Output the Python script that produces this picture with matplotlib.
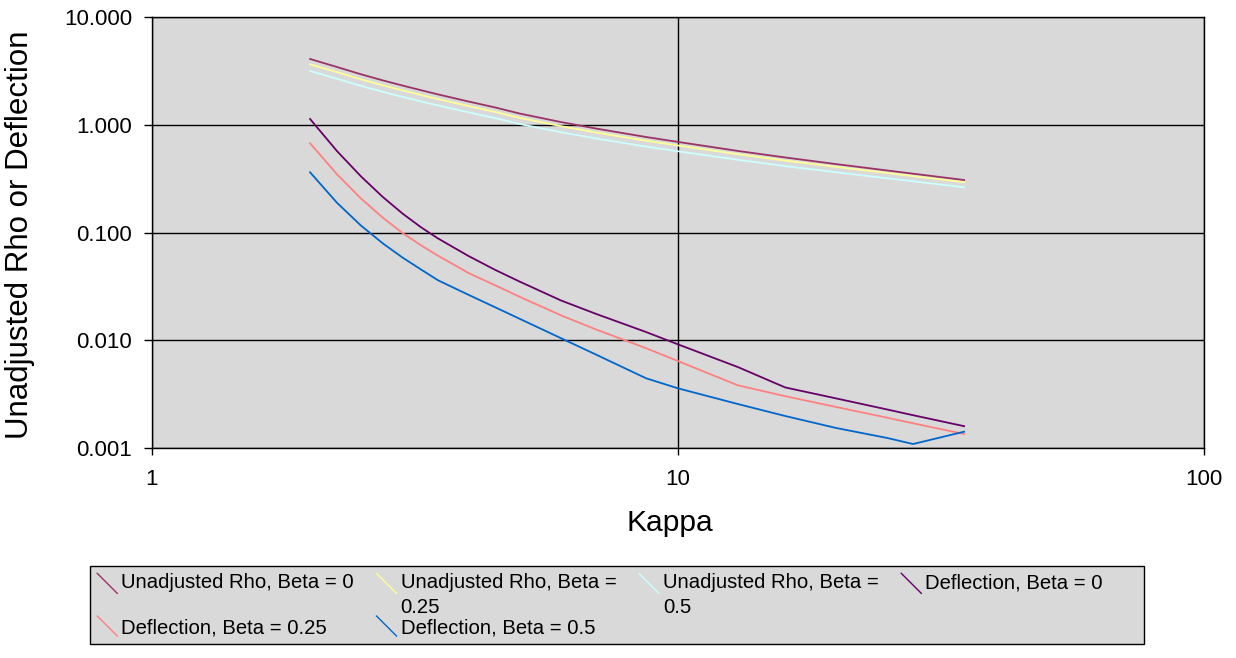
import matplotlib
matplotlib.use("Agg")
import matplotlib.pyplot as plt
from matplotlib.lines import Line2D
from matplotlib.legend_handler import HandlerBase
from matplotlib.ticker import FixedLocator, FixedFormatter

plt.rcParams['font.family'] = ['Liberation Sans', 'DejaVu Sans']

# ---- data ----
kappa = [2, 2.25, 2.5, 2.75, 3, 3.25, 3.5, 4, 4.5, 5, 6, 7, 8.7, 10, 13, 16, 20,
         25, 28, 35]

rho_b0 = [4.098, 3.452, 2.953, 2.592, 2.318, 2.101, 1.921, 1.650, 1.451, 1.276,
          1.062, 0.924, 0.772, 0.695, 0.573, 0.498, 0.432, 0.377, 0.352, 0.3075]
rho_b025 = [3.660, 3.093, 2.652, 2.333, 2.091, 1.897, 1.739, 1.497, 1.320, 1.164,
            0.973, 0.849, 0.713, 0.644, 0.534, 0.466, 0.407, 0.357, 0.334, 0.293]
rho_b05 = [3.172, 2.682, 2.303, 2.027, 1.820, 1.653, 1.516, 1.308, 1.155, 1.020,
           0.854, 0.748, 0.629, 0.569, 0.474, 0.414, 0.363, 0.319, 0.299, 0.263]
defl_b0 = [1.134, 0.5709, 0.3315, 0.2137, 0.1495, 0.1118, 0.0881, 0.0605, 0.04482,
           0.03504, 0.02333, 0.01748, 0.01189, 0.00914, 0.00562, 0.00363, 0.00287,
           0.002265, 0.002004, 0.001585]
defl_b025 = [0.6745, 0.3475, 0.2066, 0.1370, 0.0987, 0.0759, 0.0609, 0.04204,
             0.03224, 0.02531, 0.01696, 0.01252, 0.00841, 0.00639, 0.00380,
             0.003011, 0.002389, 0.0019, 0.001686, 0.001341]
defl_b05 = [0.3626, 0.1888, 0.1157, 0.0792, 0.0583, 0.0453, 0.0360, 0.02636,
            0.02014, 0.01581, 0.0104, 0.00731, 0.00442, 0.003565, 0.002547,
            0.00197, 0.001524, 0.001231, 0.001082, 0.001408]

series_labels = ["Unadjusted Rho, Beta = 0", "Unadjusted Rho, Beta =\n0.25",
                 "Unadjusted Rho, Beta =\n0.5", "Deflection, Beta = 0",
                 "Deflection, Beta = 0.25", "Deflection, Beta = 0.5"]
series_values = [rho_b0, rho_b025, rho_b05, defl_b0, defl_b025, defl_b05]
series_colors = ["#993366", "#FFFF99", "#CCFFFF", "#660066", "#FF8080", "#0066CC"]

x_ticks = [1, 10, 100]
x_ticklabels = ["1", "10", "100"]
y_ticks = [0.001, 0.01, 0.1, 1, 10]
y_ticklabels = ["0.001", "0.010", "0.100", "1.000", "10.000"]

# ---- figure ----
W, H = 1236, 658
fig = plt.figure(figsize=(W / 100, H / 100), dpi=100)
L, R, T, B = 151.7, 1204.0, 17.3, 447.7
ax = fig.add_axes([L / W, 1 - B / H, (R - L) / W, (B - T) / H])
ax.set_facecolor("#D9D9D9")

lines = []
for vals, lab, col in zip(series_values, series_labels, series_colors):
    ln, = ax.plot(kappa, vals, color=col, lw=1.3, label=lab)
    lines.append(ln)

ax.set_xscale("log")
ax.set_yscale("log")
ax.set_xlim(1, 100)
ax.set_ylim(0.001, 10)
ax.xaxis.set_major_locator(FixedLocator(x_ticks))
ax.xaxis.set_major_formatter(FixedFormatter(x_ticklabels))
ax.yaxis.set_major_locator(FixedLocator(y_ticks))
ax.yaxis.set_major_formatter(FixedFormatter(y_ticklabels))
ax.xaxis.set_minor_locator(FixedLocator([]))
ax.yaxis.set_minor_locator(FixedLocator([]))
ax.grid(True, which="major", color="black", lw=1.0)
ax.set_axisbelow(True)
for sp in ax.spines.values():
    sp.set_color("black")
    sp.set_linewidth(1.0)
ax.tick_params(axis="y", which="major", direction="out", length=6, width=1,
               pad=8, labelsize=16, colors="black")
ax.tick_params(axis="x", which="major", direction="out", length=5, width=1,
               pad=10, labelsize=16, colors="black")

ax.set_xlabel("Kappa", fontsize=21.6)
ax.set_ylabel("Unadjusted Rho or Deflection", fontsize=22.5)
ax.xaxis.set_label_coords(0.492, -0.142)
ax.yaxis.set_label_coords(-0.111, 0.494)


class DiagHandler(HandlerBase):
    def __init__(self, yshift=0.0, **kw):
        super().__init__(**kw)
        self.yshift = yshift

    def create_artists(self, legend, orig_handle, xdescent, ydescent, width,
                       height, fontsize, trans):
        s = 14.4
        x0 = -xdescent + (width - s) / 2
        yc = -ydescent + height / 2 + self.yshift * fontsize
        ln = Line2D([x0, x0 + s], [yc + s / 2, yc - s / 2],
                    color=orig_handle.get_color(), lw=1.0, transform=trans)
        return [ln]


order = [0, 4, 1, 5, 2, 3]
handles = [lines[i] for i in order]
hmap = {}
for i in order:
    hmap[lines[i]] = DiagHandler(yshift=0.0 if i >= 4 else 0.6)
labels = []
for i in order:
    lab = series_labels[i]
    if i == 3:
        lab = lab + "      "
    if i < 4 and "\n" not in lab:
        lab = lab + "\n"
    labels.append(lab)

leg = fig.legend(handles, labels, handler_map=hmap, ncol=4,
                 loc="upper left", bbox_to_anchor=(90 / W, 1 - 566 / H),
                 bbox_transform=fig.transFigure, fontsize=14.6,
                 frameon=True, fancybox=False, shadow=False, framealpha=1,
                 facecolor="#D9D9D9", edgecolor="black", borderpad=0.35,
                 handlelength=1.0, handleheight=0.7, handletextpad=0.2,
                 columnspacing=1.1, labelspacing=0.05, borderaxespad=0)
leg.get_frame().set_linewidth(1.0)
for t in leg.get_texts():
    t.set_linespacing(1.4)

fig.savefig("out.png", dpi=100, facecolor="white")
